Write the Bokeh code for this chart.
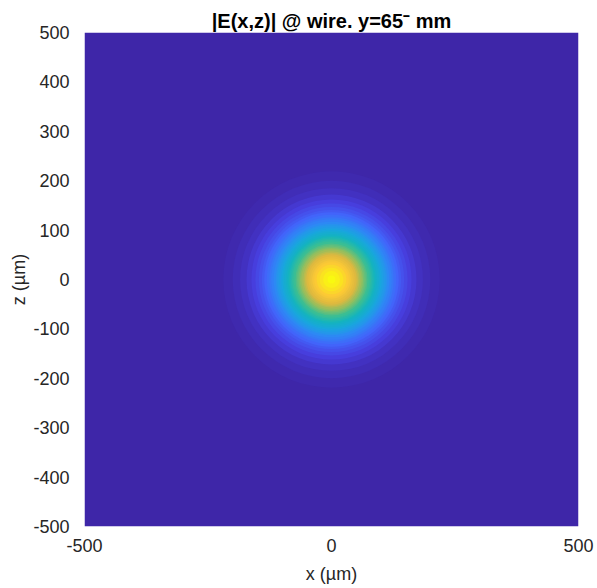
import numpy as np
from bokeh.plotting import figure
from bokeh.models import Range1d, FixedTicker, LinearColorMapper, ColumnDataSource
from bokeh.embed import file_html
from bokeh.resources import INLINE

# ---- data ----
title_text = "|E(x,z)| @ wire. y=65\u207b mm"
x_ticks = [-500, 0, 500]
z_ticks = [-500, -400, -300, -200, -100, 0, 100, 200, 300, 400, 500]
x_extent = [-500, 500]
z_extent = [-500, 500]
background_level = 0.0
# normalised |E| contour levels and the radius (um) at which each is reached
levels = [0.015, 0.03, 0.05, 0.075, 0.10, 0.125, 0.15, 0.175, 0.20, 0.225,
          0.25, 0.275, 0.30, 0.325, 0.35, 0.375, 0.40, 0.425, 0.45, 0.475,
          0.50, 0.525, 0.55, 0.575, 0.60, 0.625, 0.65, 0.675, 0.70, 0.725,
          0.75, 0.775, 0.80, 0.825, 0.85, 0.875, 0.90, 0.925, 0.95, 0.975, 0.995]
radii = [219, 200, 185, 172, 162, 154, 147, 141, 136, 131,
         126, 122, 117, 113, 110, 106, 102, 99, 96, 92,
         89, 86, 83, 80, 77, 73, 70, 67, 64, 61,
         57, 54, 51, 47, 43, 39, 35, 30, 24, 17, 8]
centre_x = [0] * len(levels)
centre_z = [0] * len(levels)

# ---- parula-like palette (style) ----
anchors = [
    (0.00, (62, 38, 168)),
    (0.10, (71, 62, 222)),
    (0.20, (66, 100, 250)),
    (0.30, (45, 138, 244)),
    (0.40, (25, 166, 222)),
    (0.50, (20, 180, 190)),
    (0.60, (58, 190, 148)),
    (0.70, (140, 191, 98)),
    (0.80, (222, 185, 63)),
    (0.90, (252, 201, 53)),
    (1.00, (249, 251, 14)),
]
ts = np.array([a[0] for a in anchors])
cols = np.array([a[1] for a in anchors], dtype=float)
grid = np.linspace(0, 1, 256)
palette = []
for g in grid:
    rgb = [int(round(np.interp(g, ts, cols[:, k]))) for k in range(3)]
    palette.append("#%02x%02x%02x" % tuple(rgb))

mapper = LinearColorMapper(palette=palette, low=0.0, high=1.0)

p = figure(width=597, height=588, output_backend="svg", toolbar_location=None,
           x_range=Range1d(*x_extent), y_range=Range1d(*z_extent),
           min_border_left=84, min_border_right=19, min_border_top=32,
           min_border_bottom=62, background_fill_color="white",
           border_fill_color="white")

bg = ColumnDataSource(dict(left=[x_extent[0]], right=[x_extent[1]],
                           bottom=[z_extent[0]], top=[z_extent[1]],
                           v=[background_level]))
p.quad(left="left", right="right", bottom="bottom", top="top", source=bg,
       fill_color={"field": "v", "transform": mapper}, line_color=None)

src = ColumnDataSource(dict(x=centre_x, z=centre_z, r=radii, v=levels))
p.circle(x="x", y="z", radius="r", source=src,
         fill_color={"field": "v", "transform": mapper}, line_color=None)

p.grid.visible = False
p.outline_line_color = None

p.title.text = title_text
p.title.align = "center"
p.title.text_font = "Liberation Sans"
p.title.text_font_size = "20px"
p.title.text_font_style = "bold"
p.title.text_color = "black"
p.title.standoff = 2

for ax in (p.xaxis[0], p.yaxis[0]):
    ax.axis_line_color = None
    ax.major_tick_line_color = None
    ax.minor_tick_line_color = None
    ax.major_label_text_font = "Liberation Sans"
    ax.major_label_text_font_size = "18px"
    ax.major_label_text_color = "#262626"
    ax.axis_label_text_font = "Liberation Sans"
    ax.axis_label_text_font_size = "18px"
    ax.axis_label_text_font_style = "normal"
    ax.axis_label_text_color = "#262626"

p.xaxis.ticker = FixedTicker(ticks=x_ticks)
p.yaxis.ticker = FixedTicker(ticks=z_ticks)
p.xaxis.major_label_overrides = {t: str(t) for t in x_ticks}
p.yaxis.major_label_overrides = {t: str(t) for t in z_ticks}
p.xaxis.axis_label = "x (\u00b5m)"
p.yaxis.axis_label = "z (\u00b5m)"
p.xaxis.major_label_standoff = 6
p.yaxis.major_label_standoff = 9
p.xaxis.axis_label_standoff = 9
p.yaxis.axis_label_standoff = 1

open("out.html", "w").write(file_html(p, INLINE))
